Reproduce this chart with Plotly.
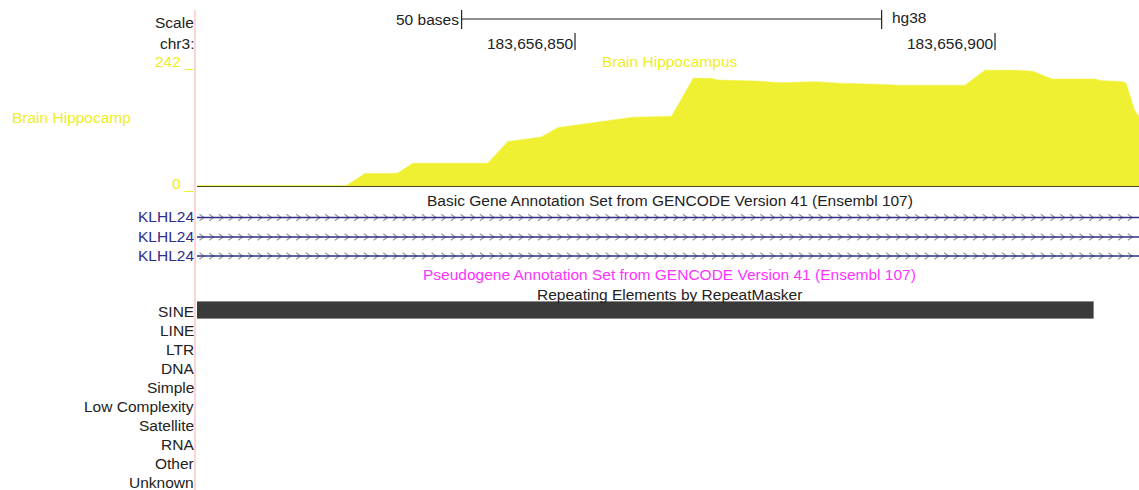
import plotly.graph_objects as go

# ---------------- data ----------------
chrom = "chr3"
assembly = "hg38"
view_start = 183656805.0
view_end = 183656917.14

# Brain Hippocampus coverage (genomic position, value)
cov_pos = [183656805.0, 183656822.8, 183656825.0, 183656828.8, 183656830.7, 183656839.6,
           183656842.0, 183656844.6, 183656846.0, 183656848.0, 183656850.2, 183656852.1,
           183656855.0, 183656856.9, 183656861.5, 183656864.1, 183656866.3, 183656867.0,
           183656871.6, 183656874.6, 183656878.6, 183656881.5, 183656885.9, 183656888.5,
           183656896.4, 183656898.8, 183656902.6, 183656904.5, 183656906.8, 183656911.9,
           183656912.5, 183656915.2, 183656915.6, 183656916.6, 183656917.14]
cov_val = [3, 3, 26, 26, 46, 46, 88, 93, 97, 115, 120, 123, 131, 135, 137, 211, 210, 207,
           205, 202, 204, 201, 199, 197, 197, 226, 226, 224, 209, 209, 206, 204, 201, 149, 136]
cov_max = 242
cov_min = 0

pos_ticks = [183656850, 183656900]
pos_tick_labels = ["183,656,850", "183,656,900"]
scale_start = 183656836.5
scale_bases = 50

gene_names = ["KLHL24", "KLHL24", "KLHL24"]
gene_start = [183656805.0, 183656805.0, 183656805.0]
gene_end = [183656917.14, 183656917.14, 183656917.14]

repeat_classes = ["SINE", "LINE", "LTR", "DNA", "Simple", "Low Complexity",
                  "Satellite", "RNA", "Other", "Unknown"]
sine_start = 183656805.0
sine_end = 183656911.8

# ---------------- style / layout ----------------
W, H = 1139, 490
LEFT = 197
PX_PER_BASE = (W - LEFT) / (view_end - view_start)
FONT = "Liberation Sans, Arial, Helvetica, sans-serif"
FS = 15.5
YEL_FILL = "#F0F032"
YEL_TXT = "#EEEE22"
NAVY = "#2E2E8C"
MAGENTA = "#FF33FF"
TXT = "#222222"

cov_top_px, cov_bot_px = 62, 187
gene_rows_px = [217.5, 237.0, 256.0]
repeat_row0_px, repeat_step_px = 311.0, 19.1
label_x = 193 / W

fig = go.Figure()

# coverage area
fig.add_trace(go.Scatter(
    x=cov_pos, y=cov_val, xaxis="x", yaxis="y2", mode="lines",
    fill="tozeroy", fillcolor=YEL_FILL, line=dict(color=YEL_FILL, width=0.5),
    name="Brain Hippocampus", showlegend=False))

# gene tracks: chevrons then line
chev_step = 9.67 / PX_PER_BASE
chev_dx = 2.2 / PX_PER_BASE
for gs, ge, gy in zip(gene_start, gene_end, gene_rows_px):
    xs, ys = [], []
    c = gs + 4.7 / PX_PER_BASE
    while c < ge:
        xs += [c - chev_dx, c + chev_dx, c - chev_dx, None]
        ys += [gy - 3.2, gy, gy + 3.2, None]
        c += chev_step
    fig.add_trace(go.Scatter(x=xs, y=ys, xaxis="x", yaxis="y", mode="lines",
                             line=dict(color="#9A9A9A", width=1.2),
                             hoverinfo="skip", showlegend=False))
    fig.add_trace(go.Scatter(x=[gs, ge], y=[gy, gy], xaxis="x", yaxis="y", mode="lines",
                             line=dict(color=NAVY, width=1.6),
                             name="KLHL24", showlegend=False))

# SINE repeat bar
fig.add_trace(go.Bar(
    orientation="h", y=[repeat_row0_px - 0.5], x=[sine_end - sine_start], base=[sine_start],
    width=17, xaxis="x", yaxis="y",
    marker=dict(color="#3A3A3A", line=dict(color="#8A8A8A", width=1)),
    showlegend=False, name="SINE"))

shapes = []
# pink separator
shapes.append(dict(type="line", xref="paper", yref="y", x0=195 / W, x1=195 / W, y0=10, y1=490,
                   line=dict(color="#FFD4D4", width=2)))
# coverage baseline
shapes.append(dict(type="line", xref="x", yref="y2", x0=view_start, x1=view_end, y0=0, y1=0,
                   line=dict(color="#111111", width=1.5)))
# scale bar
se = scale_start + scale_bases
shapes.append(dict(type="line", xref="x", yref="y", x0=scale_start, x1=se, y0=19, y1=19,
                   line=dict(color="#222222", width=1.2)))
for sx in (scale_start, se):
    shapes.append(dict(type="line", xref="x", yref="y", x0=sx, x1=sx, y0=10, y1=29,
                       line=dict(color="#222222", width=1.2)))
# position ticks
for p in pos_ticks:
    shapes.append(dict(type="line", xref="x", yref="y", x0=p, x1=p, y0=33, y1=50,
                       line=dict(color="#222222", width=1.2)))

ann = []
def A(text, x, y, xref="paper", xanchor="right", color=TXT, size=FS):
    shift = {"right": 3, "left": -2, "center": 0}[xanchor]
    ann.append(dict(text=text, x=x, y=y, xref=xref, yref="y", xanchor=xanchor,
                    yanchor="middle", showarrow=False, xshift=shift,
                    font=dict(family=FONT, size=size, color=color)))

A("Scale", label_x, 22)
A(chrom + ":", label_x, 43)
A(f"{cov_max} _", label_x, 61, color=YEL_TXT)
A(f"{cov_min} _", label_x, 183, color=YEL_TXT)
A("Brain Hippocamp", 12 / W, 117, xanchor="left", color=YEL_TXT)
A(f"{scale_bases} bases", 458 / W, 19)
A(assembly, 892 / W, 17, xanchor="left")
for p, lab in zip(pos_ticks, pos_tick_labels):
    A(lab, p - 0.25, 43, xref="x")
center = (LEFT + 3 + W) / 2 / W
A("Brain Hippocampus", center, 61, xanchor="center", color=YEL_TXT)
A("Basic Gene Annotation Set from GENCODE Version 41 (Ensembl 107)", center, 200, xanchor="center")
for name, gy in zip(gene_names, gene_rows_px):
    A(name, label_x, gy - 1, color=NAVY)
A("Pseudogene Annotation Set from GENCODE Version 41 (Ensembl 107)", center, 274,
  xanchor="center", color=MAGENTA)
A("Repeating Elements by RepeatMasker", center, 294, xanchor="center")
for i, rc in enumerate(repeat_classes):
    A(rc, label_x, repeat_row0_px + i * repeat_step_px)

fig.update_layout(
    width=W, height=H, margin=dict(l=0, r=0, t=0, b=0),
    paper_bgcolor="white", plot_bgcolor="white",
    xaxis=dict(domain=[LEFT / W, 1], range=[view_start, view_end], visible=False,
               anchor="y", fixedrange=True),
    yaxis=dict(domain=[0, 1], range=[H, 0], visible=False, anchor="x", fixedrange=True),
    yaxis2=dict(domain=[1 - cov_bot_px / H, 1 - cov_top_px / H], range=[cov_min, cov_max],
                visible=False, anchor="x", fixedrange=True),
    shapes=shapes, annotations=ann, bargap=0,
)

fig.write_html("out.html", config={"displayModeBar": False})

# remove the browser's default page margin so the figure sits at the window's corner
with open("out.html", "r", encoding="utf-8") as f:
    html = f.read()
html = html.replace("<head>", "<head><style>html,body{margin:0;padding:0;overflow:hidden;}</style>", 1)
with open("out.html", "w", encoding="utf-8") as f:
    f.write(html)
